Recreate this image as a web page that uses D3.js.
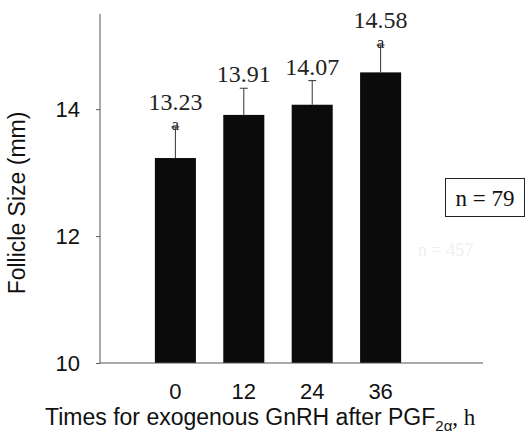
<!DOCTYPE html>
<html>
<head>
<meta charset="utf-8">
<script src="https://cdn.jsdelivr.net/npm/d3@7"></script>
<style>
  body { margin: 0; background: #fff; }
  svg { display: block; }
</style>
</head>
<body>
<script>
const times = ['0', '12', '24', '36'];
const means = [13.23, 13.91, 14.07, 14.58];
const errors = [0.49, 0.42, 0.38, 0.43];
const letters = ['a', '', '', 'a'];
const yTicks = [10, 12, 14];

const data = times.map((t, i) => ({ t, mean: means[i], err: errors[i], letter: letters[i] }));

const W = 526, H = 436;
const axisX = 100, axisRight = 483, axisBottom = 363, axisTop = 14;

const svg = d3.select('body').append('svg')
  .attr('width', W)
  .attr('height', H);

const yScale = d3.scaleLinear()
  .domain([10, 15.5])
  .range([axisBottom, axisTop]);

const xScale = d3.scaleBand()
  .domain(times)
  .range([127.5, 428.5])
  .padding(0.4);

// bars
svg.selectAll('.bar')
  .data(data)
  .enter()
  .append('rect')
  .attr('class', 'bar')
  .attr('x', d => xScale(d.t))
  .attr('y', d => yScale(d.mean))
  .attr('width', xScale.bandwidth())
  .attr('height', d => yScale(10) - yScale(d.mean))
  .attr('fill', '#0b0b0b');

// error bars (upper only)
const cx = d => xScale(d.t) + xScale.bandwidth() / 2;
svg.selectAll('.err')
  .data(data)
  .enter()
  .append('line')
  .attr('x1', cx).attr('x2', cx)
  .attr('y1', d => yScale(d.mean))
  .attr('y2', d => yScale(d.mean + d.err))
  .attr('stroke', '#333')
  .attr('stroke-width', 1);

svg.selectAll('.cap')
  .data(data)
  .enter()
  .append('line')
  .attr('x1', d => cx(d) - 4).attr('x2', d => cx(d) + 4)
  .attr('y1', d => yScale(d.mean + d.err))
  .attr('y2', d => yScale(d.mean + d.err))
  .attr('stroke', '#333')
  .attr('stroke-width', 1);

// significance letters
svg.selectAll('.letter')
  .data(data.filter(d => d.letter))
  .enter()
  .append('text')
  .attr('x', cx)
  .attr('y', d => yScale(d.mean + d.err) + 3)
  .attr('text-anchor', 'middle')
  .attr('font-family', '"Liberation Serif", "Times New Roman", serif')
  .attr('font-size', 17)
  .attr('fill', '#222')
  .text(d => d.letter);

// value labels
svg.selectAll('.val')
  .data(data)
  .enter()
  .append('text')
  .attr('x', cx)
  .attr('y', d => yScale(d.mean + d.err) - (d.letter ? 17 : 6))
  .attr('text-anchor', 'middle')
  .attr('font-family', '"Liberation Serif", "Times New Roman", serif')
  .attr('font-size', 24)
  .attr('fill', '#222')
  .text(d => d.mean.toFixed(2));

// axes
svg.append('line')
  .attr('x1', axisX).attr('x2', axisX)
  .attr('y1', axisTop).attr('y2', axisBottom)
  .attr('stroke', '#555');
svg.append('line')
  .attr('x1', axisX).attr('x2', axisRight)
  .attr('y1', axisBottom).attr('y2', axisBottom)
  .attr('stroke', '#555');

const yAxis = svg.append('g')
  .attr('transform', `translate(${axisX},0)`)
  .call(d3.axisLeft(yScale).tickValues(yTicks).tickSize(4).tickPadding(16).tickFormat(d3.format('d')));
yAxis.select('.domain').remove();
yAxis.selectAll('line').attr('stroke', '#555');
yAxis.selectAll('text')
  .attr('font-family', '"Liberation Sans", Arial, sans-serif')
  .attr('font-size', 22)
  .attr('fill', '#111');

const xAxis = svg.append('g')
  .attr('transform', `translate(0,${axisBottom})`)
  .call(d3.axisBottom(xScale).tickSize(0).tickPadding(20));
xAxis.select('.domain').remove();
xAxis.selectAll('text')
  .attr('font-family', '"Liberation Sans", Arial, sans-serif')
  .attr('font-size', 22)
  .attr('fill', '#111');

// axis titles
svg.append('text')
  .attr('transform', `translate(25,${203}) rotate(-90)`)
  .attr('text-anchor', 'middle')
  .attr('font-family', '"Liberation Sans", Arial, sans-serif')
  .attr('font-size', 23)
  .attr('fill', '#111')
  .text('Follicle Size (mm)');

const xt = svg.append('text')
  .attr('x', 45)
  .attr('y', 425)
  .attr('font-family', '"Liberation Sans", Arial, sans-serif')
  .attr('font-size', 23)
  .attr('fill', '#111');
xt.append('tspan').text('Times for exogenous GnRH after PGF');
xt.append('tspan').attr('font-size', 15).attr('dy', 6).text('2α');
xt.append('tspan').attr('dy', -6)
  .attr('font-family', '"Liberation Serif", "Times New Roman", serif')
  .text(', h');

// faint bleed-through label
svg.append('text')
  .attr('x', 418).attr('y', 256)
  .attr('font-family', '"Liberation Serif", "Times New Roman", serif')
  .attr('font-size', 18)
  .attr('fill', '#f0f0f0')
  .text('n = 457');

// n box
svg.append('rect')
  .attr('x', 445.5).attr('y', 178.5)
  .attr('width', 79).attr('height', 38)
  .attr('fill', '#fff')
  .attr('stroke', '#222');
svg.append('text')
  .attr('x', 485).attr('y', 206)
  .attr('text-anchor', 'middle')
  .attr('font-family', '"Liberation Serif", "Times New Roman", serif')
  .attr('font-size', 23)
  .attr('fill', '#111')
  .text('n = 79');
</script>
</body>
</html>
